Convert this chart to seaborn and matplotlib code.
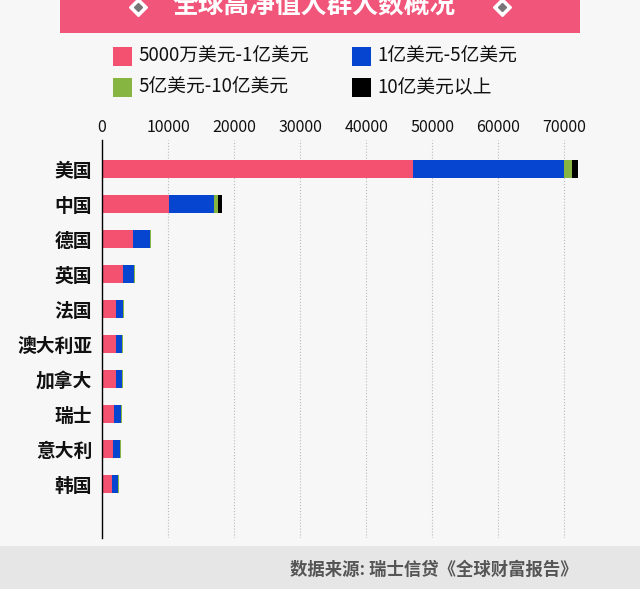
import matplotlib
matplotlib.use("Agg")
import matplotlib.pyplot as plt
import seaborn as sns
import numpy as np
import pandas as pd
from matplotlib.patches import Rectangle
from matplotlib.lines import Line2D

countries = ["美国", "中国", "德国", "英国", "法国", "澳大利亚", "加拿大", "瑞士", "意大利", "韩国"]
tier1 = [47100, 10100, 4700, 3180, 2120, 2080, 2080, 1870, 1670, 1470]   # 5000万-1亿
tier2 = [22800, 6800, 2570, 1720, 1120, 1010, 1010, 1070, 1120, 1010]    # 1亿-5亿
tier3 = [1300, 700, 100, 40, 30, 30, 30, 40, 30, 20]                     # 5亿-10亿
tier4 = [850, 600, 100, 30, 20, 20, 20, 30, 20, 10]                      # 10亿以上
series_names = ["5000万美元-1亿美元", "1亿美元-5亿美元", "5亿美元-10亿美元", "10亿美元以上"]
x_ticks = [0, 10000, 20000, 30000, 40000, 50000, 60000, 70000]
title = "全球高净值人群人数概况"
source = "数据来源: 瑞士信贷《全球财富报告》"

colors = ["#f4506f", "#0645d0", "#86b541", "#000000"]

sns.set_theme(style="white")
plt.rcParams["font.family"] = ["Noto Sans CJK SC", "DejaVu Sans"]

W, H = 640, 589
fig = plt.figure(figsize=(W / 100, H / 100), dpi=100)
bg = "#f7f7f7"
fig.patch.set_facecolor(bg)

def fx(px):
    return px / W

def fy(py):
    return 1 - py / H

ax = fig.add_axes([fx(102), fy(538), fx(584) - fx(102), fy(140) - fy(538)])
ax.set_facecolor(bg)

df = pd.DataFrame({"country": countries, "t1": tier1, "t2": tier2, "t3": tier3, "t4": tier4})
df["c1"] = df["t1"]
df["c2"] = df["c1"] + df["t2"]
df["c3"] = df["c2"] + df["t3"]
df["c4"] = df["c3"] + df["t4"]

for col, c in zip(["c4", "c3", "c2", "c1"], colors[::-1]):
    sns.barplot(data=df, y="country", x=col, orient="h", color=c, width=0.52,
                saturation=1, ax=ax, linewidth=0, order=countries)

ax.set_xlim(0, 73000)
ax.set_ylim(10.54, -0.83)
ax.set_xticks(x_ticks)
ax.set_xticklabels([str(t) for t in x_ticks], fontsize=11.5, color="#111111")
ax.xaxis.tick_top()
ax.tick_params(axis="x", length=0, pad=3)
ax.tick_params(axis="y", length=0, pad=7, labelsize=13.5, labelcolor="#111111")
for lab in ax.get_yticklabels():
    lab.set_fontweight("bold")
ax.set_xlabel("")
ax.set_ylabel("")
ax.grid(axis="x", color="#bbbbbb", linestyle=":", linewidth=0.8)
ax.set_axisbelow(True)
for s in ["top", "right", "bottom"]:
    ax.spines[s].set_visible(False)
ax.spines["left"].set_color("#000000")
ax.spines["left"].set_linewidth(1.0)

# Title banner
fig.add_artist(Rectangle((fx(60), fy(33)), fx(580) - fx(60), fy(0) - fy(33),
                         transform=fig.transFigure, facecolor="#f1567a", edgecolor="none"))
fig.text(fx(314), fy(5), title, ha="center", va="center", color="white",
         fontsize=18.5, fontweight="bold")
for xp in [138, 502]:
    fig.add_artist(Line2D([fx(xp)], [fy(7)], marker="D", markersize=9, color="white",
                          transform=fig.transFigure))
    fig.add_artist(Line2D([fx(xp)], [fy(7)], marker="D", markersize=4.5, color="#777777",
                          transform=fig.transFigure))

# Legend (manual)
leg_pos = [(113, 47), (352, 47), (113, 78), (352, 78)]
for (lx, ly), name, c in zip(leg_pos, series_names, colors):
    fig.add_artist(Rectangle((fx(lx), fy(ly + 19)), fx(19), 19 / H,
                             transform=fig.transFigure, facecolor=c, edgecolor="none"))
    fig.text(fx(lx + 25), fy(ly + 9.5), name, ha="left", va="center",
             fontsize=13.5, color="#111111")

# Footer band
fig.add_artist(Rectangle((0, 0), 1, fy(546), transform=fig.transFigure,
                         facecolor="#e6e6e6", edgecolor="none"))
fig.text(fx(578), fy(570), source, ha="right", va="center", fontsize=12.5,
         color="#555555", fontweight="bold")

fig.savefig("out.png", dpi=100, facecolor=bg)
